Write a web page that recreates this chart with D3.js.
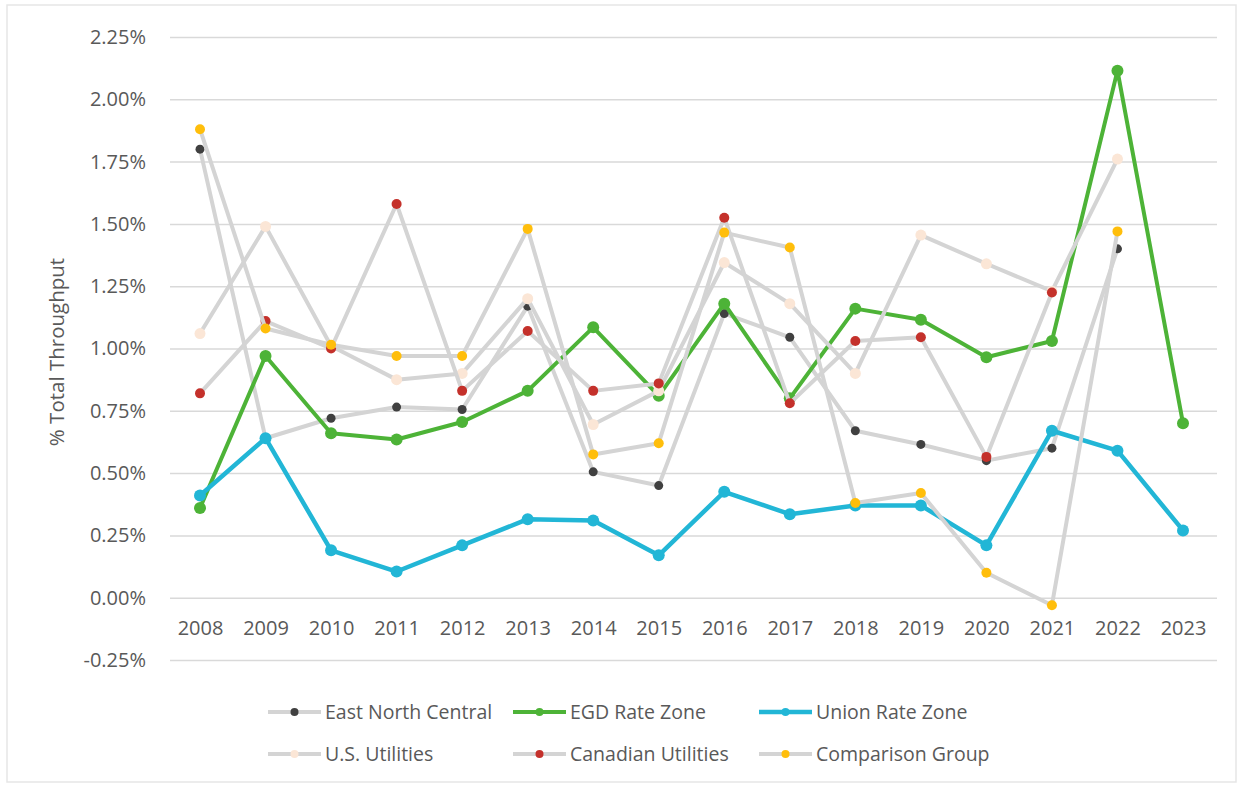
<!DOCTYPE html>
<html>
<head>
<meta charset="utf-8">
<script src="https://cdn.jsdelivr.net/npm/d3@7"></script>
<style>
  body { margin: 0; background: #fff; }
  svg { display: block; font-family: "Open Sans", "Noto Sans", sans-serif; }
</style>
</head>
<body>
<script>
var years = ["2008", "2009", "2010", "2011", "2012", "2013", "2014", "2015",
  "2016", "2017", "2018", "2019", "2020", "2021", "2022", "2023"];

// values in percent of total throughput, null = no point
var eastNorthCentral = [1.80, 0.64, 0.72, 0.765, 0.755, 1.17, 0.505, 0.45, 1.14, 1.045, 0.67, 0.615, 0.55, 0.60, 1.40, null];
var egdRateZone = [0.36, 0.97, 0.66, 0.635, 0.705, 0.83, 1.085, 0.81, 1.18, 0.80, 1.16, 1.115, 0.965, 1.03, 2.115, 0.70];
var unionRateZone = [0.41, 0.64, 0.19, 0.105, 0.21, 0.315, 0.31, 0.17, 0.425, 0.335, 0.37, 0.37, 0.21, 0.67, 0.59, 0.27];
var usUtilities = [1.06, 1.49, 1.01, 0.875, 0.90, 1.20, 0.695, 0.83, 1.345, 1.18, 0.90, 1.455, 1.34, 1.23, 1.76, null];
var canadianUtilities = [0.82, 1.11, 1.00, 1.58, 0.83, 1.07, 0.83, 0.86, 1.525, 0.78, 1.03, 1.045, 0.565, 1.225, null, null];
var comparisonGroup = [1.88, 1.08, 1.015, 0.97, 0.97, 1.48, 0.575, 0.62, 1.465, 1.405, 0.38, 0.42, 0.10, -0.03, 1.47, null];

var yTicks = [-0.25, 0, 0.25, 0.5, 0.75, 1.0, 1.25, 1.5, 1.75, 2.0, 2.25];
var yTickLabels = ["-0.25%", "0.00%", "0.25%", "0.50%", "0.75%", "1.00%", "1.25%", "1.50%", "1.75%", "2.00%", "2.25%"];

var series = [
  { name: "East North Central", values: eastNorthCentral, line: "#d4d4d4", marker: "#404040", lw: 4, r: 4.5 },
  { name: "EGD Rate Zone", values: egdRateZone, line: "#4db337", marker: "#4db337", lw: 4, r: 6 },
  { name: "Union Rate Zone", values: unionRateZone, line: "#22b6d6", marker: "#22b6d6", lw: 4.5, r: 6 },
  { name: "U.S. Utilities", values: usUtilities, line: "#d4d4d4", marker: "#fbe6d6", lw: 4, r: 5.5 },
  { name: "Canadian Utilities", values: canadianUtilities, line: "#d4d4d4", marker: "#c4312b", lw: 4, r: 5 },
  { name: "Comparison Group", values: comparisonGroup, line: "#d4d4d4", marker: "#ffbe0b", lw: 4, r: 5 }
];

var w = 1243;
var h = 788;

var svg = d3.select("body")
  .append("svg")
  .attr("width", w)
  .attr("height", h);

svg.append("rect")
  .attr("x", 7)
  .attr("y", 5)
  .attr("width", 1229)
  .attr("height", 777)
  .attr("fill", "#fff")
  .attr("stroke", "#e6e6e6")
  .attr("stroke-width", 1.5);

var x = d3.scalePoint()
  .domain(years)
  .range([200, 1183]);

var y = d3.scaleLinear()
  .domain([-0.25, 2.25])
  .range([660, 37]);

// gridlines + y labels
var yAxis = svg.append("g")
  .attr("transform", "translate(170,0)")
  .call(d3.axisLeft(y)
    .tickValues(yTicks)
    .tickSize(-1047)
    .tickPadding(24)
    .tickFormat(function(d, i) { return yTickLabels[i]; }));

yAxis.select(".domain").remove();
yAxis.selectAll(".tick line")
  .attr("stroke", "#d9d9d9")
  .attr("stroke-width", 1.5);
yAxis.selectAll(".tick text")
  .attr("fill", "#595959")
  .attr("font-size", "20px")
  .attr("font-family", "Open Sans, sans-serif");

// year labels
var xAxis = svg.append("g")
  .attr("transform", "translate(0," + y(0) + ")")
  .call(d3.axisBottom(x).tickSize(0).tickPadding(23));

xAxis.select(".domain").remove();
xAxis.selectAll(".tick text")
  .attr("fill", "#595959")
  .attr("font-size", "20px")
  .attr("font-family", "Open Sans, sans-serif");

svg.append("text")
  .attr("transform", "translate(64,352) rotate(-90)")
  .attr("text-anchor", "middle")
  .attr("fill", "#595959")
  .attr("font-size", "20.5px")
  .text("% Total Throughput");

var line = d3.line()
  .defined(function(d) { return d != null; })
  .x(function(d, i) { return x(years[i]); })
  .y(function(d) { return y(d); });

series.forEach(function(s) {
  var g = svg.append("g");
  g.append("path")
    .datum(s.values)
    .attr("d", line)
    .attr("fill", "none")
    .attr("stroke", s.line)
    .attr("stroke-width", s.lw)
    .attr("stroke-linejoin", "round");

  var pts = s.values.map(function(v, i) { return { v: v, yr: years[i] }; })
    .filter(function(p) { return p.v != null; });

  g.selectAll("circle")
    .data(pts)
    .enter()
    .append("circle")
    .attr("cx", function(d) { return x(d.yr); })
    .attr("cy", function(d) { return y(d.v); })
    .attr("r", s.r)
    .attr("fill", s.marker);
});

// legend
var legend = svg.append("g");
var legItems = legend.selectAll("g")
  .data(series)
  .enter()
  .append("g")
  .attr("transform", function(d, i) {
    var col = i % 3;
    var row = Math.floor(i / 3);
    return "translate(" + [268, 513, 759][col] + "," + (712 + row * 42) + ")";
  });

legItems.append("line")
  .attr("x1", 0)
  .attr("x2", 53)
  .attr("stroke", function(d) { return d.line; })
  .attr("stroke-width", function(d) { return d.lw; });

legItems.append("circle")
  .attr("cx", 26.5)
  .attr("r", 4)
  .attr("fill", function(d) { return d.marker; });

legItems.append("text")
  .attr("x", 57)
  .attr("dy", "0.35em")
  .attr("fill", "#595959")
  .attr("font-size", "19.5px")
  .text(function(d) { return d.name; });
</script>
</body>
</html>
